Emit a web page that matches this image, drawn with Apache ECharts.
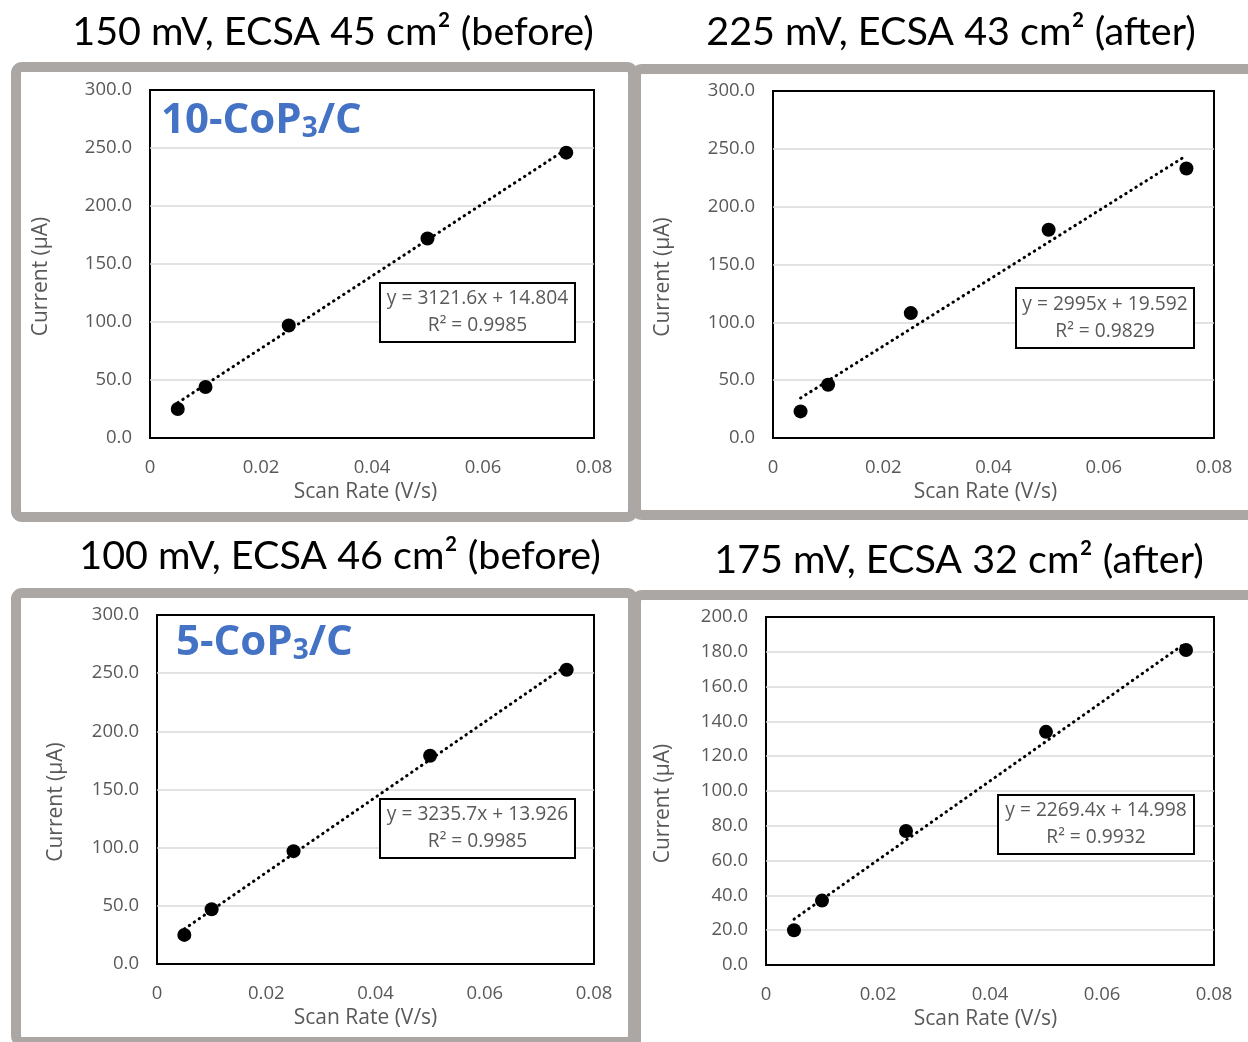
<!DOCTYPE html>
<html>
<head>
<meta charset="utf-8">
<script src="https://cdn.jsdelivr.net/npm/echarts@6/dist/echarts.min.js"></script>
<style>
html,body{margin:0;padding:0;background:#fff;}
#chart{width:1248px;height:1042px;}
</style>
</head>
<body>
<div id="chart"></div>
<script>
// ---------- data ----------
const scanRates = [0.005, 0.01, 0.025, 0.05, 0.075];
const current1 = [25, 44, 97, 172, 246];   // 150 mV before
const current2 = [23, 46, 108, 180, 233];  // 225 mV after
const current3 = [25, 47, 97, 179, 253];   // 100 mV before
const current4 = [20, 37, 77, 134, 181];   // 175 mV after
const slopes = [3121.6, 2995, 3235.7, 2269.4];
const intercepts = [14.804, 19.592, 13.926, 14.998];
const r2Values = ['0.9985', '0.9829', '0.9985', '0.9932'];
const panelTitles = [
  '150 mV, ECSA 45 cm\u00b2 (before)',
  '225 mV, ECSA 43 cm\u00b2 (after)',
  '100 mV, ECSA 46 cm\u00b2 (before)',
  '175 mV, ECSA 32 cm\u00b2 (after)'
];
const sampleLabels = ['10-CoP', '', '5-CoP', ''];
const yMaxes = [300, 300, 300, 200];
const yIntervals = [50, 50, 50, 20];
const xMax = 0.08, xInterval = 0.02;
const xName = 'Scan Rate (V/s)';
const yName = 'Current (\u00b5A)';

const currents = [current1, current2, current3, current4];

// ---------- layout (styles / positions only) ----------
const FONT = 'Open Sans';
const TFONT = 'Lato';
const grids = [
  {left: 150, top: 90, width: 444, height: 348},
  {left: 773, top: 91, width: 441, height: 347},
  {left: 157, top: 615, width: 437, height: 349},
  {left: 766, top: 617, width: 448, height: 348}
];
const yNameGaps = [98, 99, 90, 92];
const xNamePadRight = [13, 16, 20, 9];
const titlePos = [[333, 32], [951, 32], [340, 556], [959, 560]];
const eqBoxes = [[380, 283, 195, 59], [1016, 288, 178, 60], [380, 799, 195, 59], [998, 795, 196, 59]];
const labelPos = [[161, 121], null, [176, 643], null];
const frames = [[16, 67, 617, 450], [636, 69, 640, 446], [16, 593, 617, 449], [636, 595, 640, 460]];
const frameColor = '#aaa7a5';
const textGray = '#595959';

const option = {
  backgroundColor: '#fff',
  animation: false,
  grid: [], xAxis: [], yAxis: [], series: [], graphic: []
};

currents.forEach((vals, i) => {
  option.grid.push(Object.assign({show: true, borderColor: '#000', borderWidth: 2, backgroundColor: 'transparent', containLabel: false}, grids[i]));
  option.xAxis.push({
    type: 'value', gridIndex: i, min: 0, max: xMax, interval: xInterval,
    name: xName, nameLocation: 'middle', nameGap: 44,
    nameTextStyle: {color: textGray, fontFamily: FONT, fontSize: 21, padding: [0, xNamePadRight[i], 0, 0]},
    axisLine: {show: false}, axisTick: {show: false}, splitLine: {show: false},
    axisLabel: {color: textGray, fontFamily: FONT, fontSize: 18.5, margin: 20,
      formatter: v => v === 0 ? '0' : v.toFixed(2)}
  });
  option.yAxis.push({
    type: 'value', gridIndex: i, min: 0, max: yMaxes[i], interval: yIntervals[i],
    name: yName, nameLocation: 'middle', nameGap: yNameGaps[i],
    nameTextStyle: {color: textGray, fontFamily: FONT, fontSize: 21, padding: [0, 25, 0, 0]},
    axisLine: {show: false}, axisTick: {show: false},
    splitLine: {show: true, showMinLine: false, showMaxLine: false, lineStyle: {color: '#d9d9d9', width: 1.5}},
    axisLabel: {color: textGray, fontFamily: FONT, fontSize: 18.5, margin: 18,
      formatter: v => v.toFixed(1)}
  });
  const x0 = scanRates[0], x1 = scanRates[scanRates.length - 1];
  option.series.push({
    type: 'line', xAxisIndex: i, yAxisIndex: i, symbol: 'none', z: 3,
    lineStyle: {color: '#000', width: 3, type: [0.5, 5.5], cap: 'round'},
    data: [[x0, slopes[i] * x0 + intercepts[i]], [x1, slopes[i] * x1 + intercepts[i]]]
  });
  option.series.push({
    type: 'scatter', xAxisIndex: i, yAxisIndex: i, symbolSize: 14, z: 4,
    itemStyle: {color: '#000', opacity: 1},
    data: scanRates.map((x, k) => [x, vals[k]])
  });

  // frame
  const f = frames[i];
  option.graphic.push({type: 'rect', z: 1, shape: {x: f[0], y: f[1], width: f[2], height: f[3], r: 6},
    style: {fill: 'none', stroke: frameColor, lineWidth: 10}});
  // title
  option.graphic.push({type: 'text', x: titlePos[i][0], y: titlePos[i][1], z: 10,
    style: {text: panelTitles[i], fill: '#000', fontFamily: TFONT, fontSize: 39.5, align: 'center', verticalAlign: 'middle'}});
  // equation box
  const b = eqBoxes[i];
  option.graphic.push({type: 'rect', z: 20, shape: {x: b[0], y: b[1], width: b[2], height: b[3]},
    style: {fill: '#fff', stroke: '#000', lineWidth: 2}});
  const slopeTxt = String(slopes[i]);
  option.graphic.push({type: 'text', z: 21, x: b[0] + b[2] / 2, y: b[1] + b[3] / 2,
    style: {text: 'y = ' + slopeTxt + 'x + ' + intercepts[i].toFixed(3) + '\nR\u00b2 = ' + r2Values[i],
      fill: textGray, fontFamily: FONT, fontSize: 19.2, lineHeight: 27, align: 'center', verticalAlign: 'middle'}});
  // sample label
  if (labelPos[i]) {
    option.graphic.push({type: 'text', z: 21, x: labelPos[i][0], y: labelPos[i][1],
      style: {text: sampleLabels[i] + '{s|3}/C', fill: '#4472c4', fontFamily: FONT, fontWeight: 'bold', fontSize: 42,
        lineHeight: 45, align: 'left', verticalAlign: 'middle',
        rich: {s: {fill: '#4472c4', fontFamily: FONT, fontWeight: 'bold', fontSize: 28, lineHeight: 24, verticalAlign: 'bottom'}}}});
  }
});

const chart = echarts.init(document.getElementById('chart'), null, {renderer: 'canvas'});
chart.setOption(option);
</script>
</body>
</html>
